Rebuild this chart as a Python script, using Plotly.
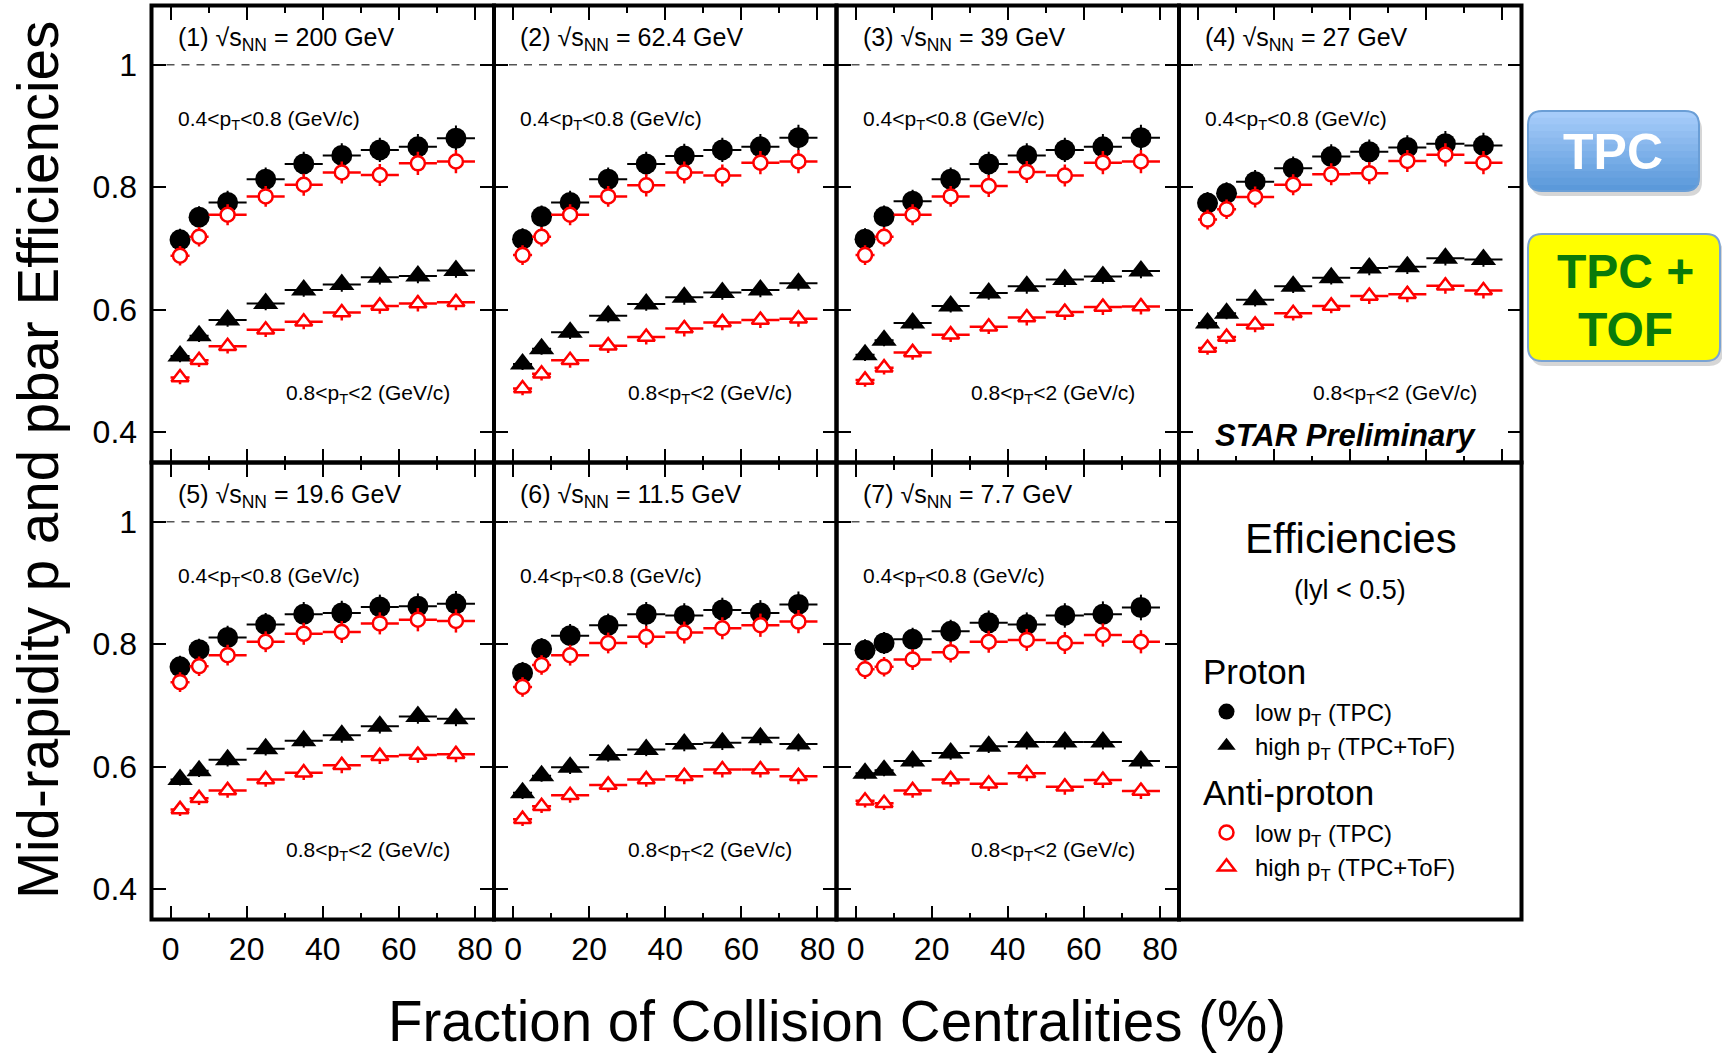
import plotly.graph_objects as go

W, H = 1722, 1053
FONT = "Liberation Sans, Arial, Helvetica, sans-serif"

# ---------------- data ----------------
panel_labels = ["(1) √s<sub>NN</sub> = 200 GeV", "(2) √s<sub>NN</sub> = 62.4 GeV",
                "(3) √s<sub>NN</sub> = 39 GeV", "(4) √s<sub>NN</sub> = 27 GeV",
                "(5) √s<sub>NN</sub> = 19.6 GeV", "(6) √s<sub>NN</sub> = 11.5 GeV",
                "(7) √s<sub>NN</sub> = 7.7 GeV"]
centrality = [2.5, 7.5, 15, 25, 35, 45, 55, 65, 75]
cent_halfwidth = [2.5, 2.5, 5, 5, 5, 5, 5, 5, 5]

p_low = [
    [0.714, 0.751, 0.775, 0.813, 0.838, 0.852, 0.861, 0.866, 0.880],
    [0.715, 0.752, 0.775, 0.813, 0.838, 0.851, 0.861, 0.866, 0.881],
    [0.715, 0.752, 0.777, 0.813, 0.838, 0.852, 0.861, 0.866, 0.881],
    [0.774, 0.790, 0.809, 0.831, 0.850, 0.858, 0.865, 0.871, 0.868],
    [0.763, 0.791, 0.811, 0.832, 0.849, 0.851, 0.861, 0.862, 0.866],
    [0.753, 0.792, 0.814, 0.831, 0.849, 0.847, 0.856, 0.851, 0.865],
    [0.790, 0.802, 0.808, 0.821, 0.835, 0.832, 0.847, 0.849, 0.860],
]
pbar_low = [
    [0.688, 0.719, 0.755, 0.785, 0.804, 0.824, 0.820, 0.839, 0.842],
    [0.689, 0.719, 0.755, 0.785, 0.803, 0.824, 0.819, 0.840, 0.842],
    [0.689, 0.719, 0.755, 0.785, 0.802, 0.825, 0.819, 0.840, 0.842],
    [0.747, 0.764, 0.784, 0.804, 0.821, 0.823, 0.843, 0.853, 0.840],
    [0.738, 0.764, 0.782, 0.804, 0.817, 0.820, 0.834, 0.840, 0.838],
    [0.730, 0.766, 0.782, 0.802, 0.812, 0.819, 0.826, 0.831, 0.837],
    [0.759, 0.763, 0.775, 0.787, 0.804, 0.807, 0.802, 0.815, 0.804],
]
p_high = [
    [0.524, 0.557, 0.583, 0.610, 0.632, 0.641, 0.653, 0.655, 0.664],
    [0.511, 0.536, 0.563, 0.590, 0.609, 0.620, 0.628, 0.632, 0.643],
    [0.526, 0.550, 0.578, 0.606, 0.627, 0.638, 0.649, 0.654, 0.663],
    [0.578, 0.594, 0.616, 0.638, 0.652, 0.668, 0.670, 0.684, 0.682],
    [0.579, 0.593, 0.611, 0.629, 0.642, 0.651, 0.666, 0.682, 0.678],
    [0.557, 0.585, 0.599, 0.619, 0.628, 0.637, 0.639, 0.647, 0.637],
    [0.589, 0.594, 0.609, 0.622, 0.633, 0.640, 0.640, 0.640, 0.609],
]
pbar_high = [
    [0.489, 0.517, 0.540, 0.567, 0.580, 0.595, 0.606, 0.610, 0.612],
    [0.471, 0.495, 0.517, 0.541, 0.555, 0.569, 0.579, 0.583, 0.585],
    [0.485, 0.505, 0.530, 0.559, 0.572, 0.587, 0.596, 0.604, 0.605],
    [0.537, 0.555, 0.575, 0.594, 0.606, 0.622, 0.625, 0.639, 0.631],
    [0.530, 0.548, 0.561, 0.579, 0.590, 0.602, 0.617, 0.619, 0.620],
    [0.514, 0.535, 0.553, 0.570, 0.579, 0.584, 0.595, 0.595, 0.584],
    [0.544, 0.540, 0.561, 0.579, 0.572, 0.589, 0.567, 0.578, 0.560],
]
err_p_low = [0.018, 0.018, 0.019, 0.019, 0.020, 0.020, 0.020, 0.021, 0.021]
err_pbar_low = [0.016, 0.016, 0.017, 0.017, 0.018, 0.018, 0.018, 0.019, 0.019]
err_p_high = [0.010, 0.010, 0.011, 0.011, 0.011, 0.012, 0.012, 0.012, 0.012]
err_pbar_high = [0.011, 0.011, 0.012, 0.012, 0.012, 0.013, 0.013, 0.013, 0.013]

x_ticks = [0, 20, 40, 60, 80]
x_minor = [10, 30, 50, 70]
y_ticks = [0.4, 0.6, 0.8, 1.0]
y_ticktext = ["0.4", "0.6", "0.8", "1"]

# ---------------- layout geometry (px) ----------------
col_edges = [151.5, 494.0, 836.5, 1179.0, 1521.5]
row_edges = [5.5, 462.5, 919.5]


def xdom(c):
    return [col_edges[c] / W, col_edges[c + 1] / W]


def ydom(r):
    return [1 - row_edges[r + 1] / H, 1 - row_edges[r] / H]


fig = go.Figure()
layout = dict(width=W, height=H, margin=dict(l=0, r=0, t=0, b=0),
              paper_bgcolor="white", plot_bgcolor="white",
              font=dict(family=FONT, color="black"), showlegend=True)
shapes, annotations = [], []

series = [
    (p_low, err_p_low, "circle", 21, "black", "black", 0, 2.0,
     "p", "Proton", "low p<sub>T</sub> (TPC)"),
    (p_high, err_p_high, "triangle-up", 22, "black", "black", 0, 2.0,
     "p", "Proton", "high p<sub>T</sub> (TPC+ToF)"),
    (pbar_low, err_pbar_low, "circle", 14, "white", "red", 2.5, 2.5,
     "pbar", "Anti-proton", "low p<sub>T</sub> (TPC)"),
    (pbar_high, err_pbar_high, "triangle-up", 15, "white", "red", 2.5, 2.5,
     "pbar", "Anti-proton", "high p<sub>T</sub> (TPC+ToF)"),
]

for i in range(7):
    r, c = divmod(i, 4)
    n = i + 1
    xa = "x" if n == 1 else f"x{n}"
    ya = "y" if n == 1 else f"y{n}"
    layout[f"xaxis{n}"] = dict(
        domain=xdom(c), anchor=ya, range=[-5, 85],
        tickmode="array", tickvals=x_ticks, ticktext=[str(v) for v in x_ticks],
        ticks="inside", ticklen=14, tickwidth=1.5, tickcolor="black",
        minor=dict(tickmode="array", tickvals=x_minor, ticks="inside", ticklen=7,
                   tickwidth=1.5, tickcolor="black"),
        showticklabels=(r == 1), tickfont=dict(size=32, family=FONT),
        ticklabelstandoff=1,
        showline=True, linecolor="rgba(0,0,0,0)", linewidth=1, mirror="allticks",
        showgrid=False, zeroline=False, fixedrange=True)
    layout[f"yaxis{n}"] = dict(
        domain=ydom(r), anchor=xa, range=[0.35, 1.097],
        tickmode="array", tickvals=y_ticks, ticktext=y_ticktext,
        ticks="inside", ticklen=14, tickwidth=1.5, tickcolor="black",
        showticklabels=(c == 0), tickfont=dict(size=32, family=FONT),
        ticklabelstandoff=7,
        showline=True, linecolor="rgba(0,0,0,0)", linewidth=1, mirror="allticks",
        showgrid=False, zeroline=False, fixedrange=True)

    # dashed reference line at efficiency = 1
    shapes.append(dict(type="line", xref=f"{xa} domain", yref=ya, x0=0, x1=1,
                       y0=1.0, y1=1.0, line=dict(color="#555555", width=1.5, dash="8px,7px"),
                       layer="below"))

    for (vals, errs, sym, size, fill, col, lw, thick, grp, gtitle, name) in series:
        fig.add_trace(go.Scatter(
            x=centrality, y=vals[i], xaxis=xa, yaxis=ya, mode="markers",
            marker=dict(symbol=sym, size=size, color=fill,
                        line=dict(color=col, width=lw)),
            error_x=dict(type="data", array=cent_halfwidth, color=col,
                         thickness=thick, width=0),
            error_y=dict(type="data", array=errs, color=col, thickness=thick, width=0),
            name=name, legendgroup=grp,
            legendgrouptitle=dict(text=gtitle, font=dict(size=35, family=FONT)),
            showlegend=(i == 0), hoverinfo="skip"))

    annotations.append(dict(text=panel_labels[i], xref=f"{xa} domain", yref=f"{ya} domain",
                            x=0.0715, y=0.926, xanchor="left", yanchor="middle",
                            showarrow=False, font=dict(size=25, family=FONT)))
    annotations.append(dict(text="0.4&lt;p<sub>T</sub>&lt;0.8 (GeV/c)", xref=f"{xa} domain",
                            yref=f"{ya} domain", x=0.0715, y=0.75, xanchor="left",
                            yanchor="middle", showarrow=False, font=dict(size=21, family=FONT)))
    annotations.append(dict(text="0.8&lt;p<sub>T</sub>&lt;2 (GeV/c)", xref=f"{xa} domain",
                            yref=f"{ya} domain", x=0.877, y=0.15, xanchor="right",
                            yanchor="middle", showarrow=False, font=dict(size=21, family=FONT)))

# STAR Preliminary
annotations.append(dict(text="<b><i>STAR Preliminary</i></b>", xref="x4 domain", yref="y4 domain",
                        x=0.486, y=0.06, xanchor="center", yanchor="middle", showarrow=False,
                        font=dict(size=31, family=FONT)))

# panel frames (8 panels)
for r in range(2):
    for c in range(4):
        shapes.append(dict(type="rect", xref="paper", yref="paper",
                           x0=col_edges[c] / W, x1=col_edges[c + 1] / W,
                           y0=1 - row_edges[r + 1] / H, y1=1 - row_edges[r] / H,
                           line=dict(color="black", width=4), fillcolor="rgba(0,0,0,0)",
                           layer="above"))

# axis titles
annotations.append(dict(text="Fraction of Collision Centralities (%)", xref="paper", yref="paper",
                        x=837 / W, y=1 - 1021 / H, xanchor="center", yanchor="middle",
                        showarrow=False, font=dict(size=56.5, family=FONT)))
annotations.append(dict(text="Mid-rapidity p and pbar Efficiencies", xref="paper", yref="paper",
                        x=38 / W, y=1 - 460 / H, xanchor="center", yanchor="middle",
                        textangle=-90, showarrow=False, font=dict(size=56.5, family=FONT)))

# legend panel headings
annotations.append(dict(text="Efficiencies", xref="paper", yref="paper",
                        x=1351 / W, y=1 - 538 / H, xanchor="center", yanchor="middle",
                        showarrow=False, font=dict(size=42, family=FONT)))
annotations.append(dict(text="(lyl &lt; 0.5)", xref="paper", yref="paper",
                        x=1350 / W, y=1 - 590 / H, xanchor="center", yanchor="middle",
                        showarrow=False, font=dict(size=27, family=FONT)))


# rounded boxes on the right
def rounded(x0, y0, x1, y1, rad):
    rx, ry = rad / W, rad / H
    X0, X1 = x0 / W, x1 / W
    Y0, Y1 = 1 - y1 / H, 1 - y0 / H
    return (f"M{X0 + rx},{Y1} L{X1 - rx},{Y1} Q{X1},{Y1} {X1},{Y1 - ry} "
            f"L{X1},{Y0 + ry} Q{X1},{Y0} {X1 - rx},{Y0} L{X0 + rx},{Y0} "
            f"Q{X0},{Y0} {X0},{Y0 + ry} L{X0},{Y1 - ry} Q{X0},{Y1} {X0 + rx},{Y1} Z")


def blend(c0, c1, t):
    a = [int(c0[k:k + 2], 16) for k in (1, 3, 5)]
    b = [int(c1[k:k + 2], 16) for k in (1, 3, 5)]
    return "#" + "".join(f"{round(a[k] + (b[k] - a[k]) * t):02X}" for k in range(3))


NB = 12
tpc_cols = [blend("#A6CCFA", "#5B99DA", k / (NB - 1)) for k in range(NB)]
boxes = [
    (1528, 111, 1699, 191, tpc_cols, "#6A9ED6"),
    (1528, 234, 1720, 361, ["#FFFF00"], "#7AA3D3"),
]
for (x0, y0, x1, y1, cols, border) in boxes:
    shapes.append(dict(type="path", xref="paper", yref="paper",
                       path=rounded(x0 + 3, y0 + 5, x1 + 3, y1 + 5, 14),
                       fillcolor="rgba(0,0,0,0.16)", line=dict(width=0), layer="above"))
    nb = len(cols)
    if nb == 1:
        shapes.append(dict(type="path", xref="paper", yref="paper",
                           path=rounded(x0, y0, x1, y1, 14),
                           fillcolor=cols[0], line=dict(width=0), layer="above"))
    else:
        shapes.append(dict(type="path", xref="paper", yref="paper",
                           path=rounded(x0, y0, x1, y1, 14),
                           fillcolor=cols[-1], line=dict(width=0), layer="above"))
        hgt = (y1 - y0) / nb
        for k, cc in enumerate(cols[:-1]):
            ya0 = y0 + k * hgt
            ya1 = y0 + (k + 1) * hgt + 0.6
            if k == 0:
                p = rounded(x0, ya0, x1, ya1 + 14, 14)
                shapes.append(dict(type="path", xref="paper", yref="paper", path=p,
                                   fillcolor=cc, line=dict(width=0), layer="above"))
            else:
                shapes.append(dict(type="rect", xref="paper", yref="paper",
                                   x0=x0 / W, x1=x1 / W, y0=1 - ya1 / H, y1=1 - ya0 / H,
                                   fillcolor=cc, line=dict(width=0), layer="above"))
    shapes.append(dict(type="path", xref="paper", yref="paper",
                       path=rounded(x0, y0, x1, y1, 14), fillcolor="rgba(0,0,0,0)",
                       line=dict(color=border, width=2), layer="above"))

annotations.append(dict(text="<b>TPC</b>", xref="paper", yref="paper", x=1613 / W, y=1 - 152 / H,
                        xanchor="center", yanchor="middle", showarrow=False,
                        font=dict(size=50, color="white", family=FONT)))
annotations.append(dict(text="<b>TPC +</b>", xref="paper", yref="paper", x=1625 / W, y=1 - 271 / H,
                        xanchor="center", yanchor="middle", showarrow=False,
                        font=dict(size=48, color="#0A7A0A", family=FONT)))
annotations.append(dict(text="<b>TOF</b>", xref="paper", yref="paper", x=1625 / W, y=1 - 330 / H,
                        xanchor="center", yanchor="middle", showarrow=False,
                        font=dict(size=48, color="#0A7A0A", family=FONT)))

layout["legend"] = dict(
    x=1198 / W, xanchor="left", y=1 - 641 / H, yanchor="top",
    traceorder="grouped", tracegroupgap=4, itemsizing="trace", itemwidth=47,
    bgcolor="rgba(0,0,0,0)", borderwidth=0,
    font=dict(size=24, family=FONT))
layout["shapes"] = shapes
layout["annotations"] = annotations
fig.update_layout(**layout)
fig.write_html("out.html", config={"displayModeBar": False})
